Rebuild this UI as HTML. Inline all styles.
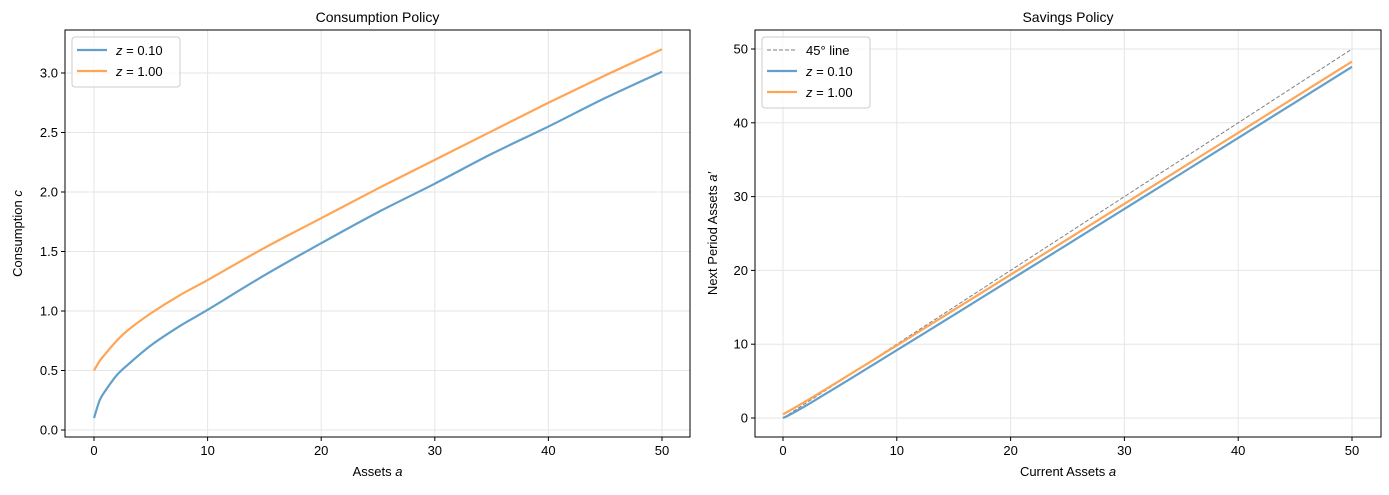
<!DOCTYPE html>
<html><head><meta charset="utf-8"><style>
body{margin:0;background:#fff;}
svg text{font-family:"Liberation Sans","DejaVu Sans",sans-serif;fill:#000;}
</style></head><body>
<svg id="fig" width="1389" height="490" xmlns="http://www.w3.org/2000/svg"></svg>
<script>
const assets=[0,0.5,1,2,3,5,7.5,10,15,20,25,30,35,40,45,50];
const consLow=[0.10,0.25,0.33,0.46,0.55,0.71,0.87,1.01,1.30,1.57,1.83,2.07,2.32,2.55,2.79,3.01];
const consHigh=[0.50,0.58,0.64,0.75,0.84,0.98,1.13,1.26,1.53,1.78,2.03,2.27,2.51,2.75,2.98,3.20];
const saveLow=[0,0.36,0.78,1.66,2.58,4.44,6.81,9.19,13.95,18.73,23.52,28.33,33.13,37.95,42.76,47.59];
const saveHigh=[0.5,0.93,1.37,2.27,3.19,5.07,7.45,9.84,14.62,19.42,24.22,29.03,33.84,38.65,43.47,48.3];
const xTicks=[0,10,20,30,40,50];
const consTicks=[0,0.5,1,1.5,2,2.5,3];
const saveTicks=[0,10,20,30,40,50];
const ns="http://www.w3.org/2000/svg";
const svg=document.getElementById('fig');
function el(tag,attrs,parent){const e=document.createElementNS(ns,tag);for(const k in attrs)e.setAttribute(k,attrs[k]);(parent||svg).appendChild(e);return e;}
const BLUE="#62a0cb",ORANGE="#ffa556";
function smooth(pts){
  let d=`M${pts[0][0]},${pts[0][1]}`;
  for(let i=0;i<pts.length-1;i++){
    const p0=pts[i-1]||pts[i],p1=pts[i],p2=pts[i+1],p3=pts[i+2]||p2;
    const c1=[p1[0]+(p2[0]-p0[0])/6,p1[1]+(p2[1]-p0[1])/6];
    const c2=[p2[0]-(p3[0]-p1[0])/6,p2[1]-(p3[1]-p1[1])/6];
    d+=` C${c1[0]},${c1[1]} ${c2[0]},${c2[1]} ${p2[0]},${p2[1]}`;
  }
  return d;
}
function panel(o){
  const g=el('g',{});
  
  
  const X=v=>o.x0+(v-0)*(o.x50-o.x0)/50;
  const Y=v=>o.yb+(v-o.yv0)*(o.yt-o.yb)/(o.yv1-o.yv0);
  xTicks.forEach(t=>{
    const l=el('line',{x1:X(t),x2:X(t),y1:o.top,y2:o.bottom,stroke:'#e6e6e6','stroke-width':1},g);
    
    el('line',{x1:X(t),x2:X(t),y1:o.bottom,y2:o.bottom+4,stroke:'#000'},g);
    const tx=el('text',{x:X(t),y:o.bottom+18,'text-anchor':'middle','font-size':13},g);tx.textContent=t;
    
  });
  o.yticks.forEach(t=>{
    const l=el('line',{x1:o.left,x2:o.right,y1:Y(t),y2:Y(t),stroke:'#e6e6e6','stroke-width':1},g);
    
    el('line',{x1:o.left-4,x2:o.left,y1:Y(t),y2:Y(t),stroke:'#000'},g);
    const tx=el('text',{x:o.left-7,y:Y(t)+4.5,'text-anchor':'end','font-size':13},g);tx.textContent=o.fmt(t);
    
  });
  if(o.diag){
    const d=el('line',{x1:X(0),y1:Y(0),x2:X(50),y2:Y(50),stroke:'#808080','stroke-width':1,'stroke-dasharray':'4,2'},g);
    
  }
  o.series.forEach(s=>{
    const p=el('path',{d:smooth(assets.map((a,i)=>[X(a),Y(s.v[i])])),fill:'none',stroke:s.c,'stroke-width':2.2,'stroke-linejoin':'round'},g);
    
  });
  const fr=el('rect',{x:o.left,y:o.top,width:o.right-o.left,height:o.bottom-o.top,fill:'none',stroke:'#000','stroke-width':1},g);
  
  const t=el('text',{x:(o.left+o.right)/2,y:22,'text-anchor':'middle','font-size':14},g);t.textContent=o.title;
  
  const xl=el('text',{x:(o.left+o.right)/2,y:476,'text-anchor':'middle','font-size':13},g);
  xl.innerHTML=o.xlabel+' <tspan font-style="italic">a</tspan>';
  
  const yl=el('text',{x:0,y:0,'text-anchor':'middle','font-size':13,transform:`translate(${o.ylx},${(o.top+o.bottom)/2}) rotate(-90)`},g);
  yl.innerHTML=o.ylabel;
  
  const lg=el('g',{},g);
  const entries=o.legend;
  el('rect',{x:o.left+7,y:37,width:o.legW,height:entries.length*21+8,rx:3,fill:'#fff','fill-opacity':0.8,stroke:'#ccc'},lg);
  entries.forEach((e,i)=>{
    const y=50+i*21;
    const li=el('line',{x1:o.left+12,x2:o.left+42,y1:y,y2:y,stroke:e.c,'stroke-width':e.dash?1:2.2,'stroke-dasharray':e.dash?'4,2':'none'},lg);
    
    const tx=el('text',{x:o.left+51,y:y+5,'font-size':13},lg);tx.innerHTML=e.t;
    
  });
}
const zl=v=>`<tspan font-style="italic">z</tspan> = ${v}`;
panel({name:'consumption-panel',left:65,right:690,top:30,bottom:437,x0:94,x50:662,yb:430,yt:73,yv0:0,yv1:3,
  yticks:consTicks,fmt:t=>t.toFixed(1),title:'Consumption Policy',xlabel:'Assets',ylx:22,
  ylabel:'Consumption <tspan font-style="italic">c</tspan>',diag:false,legW:108,
  series:[{v:consLow,c:BLUE,n:'consumption-line-z-0.10'},{v:consHigh,c:ORANGE,n:'consumption-line-z-1.00'}],
  legend:[{c:BLUE,t:zl('0.10')},{c:ORANGE,t:zl('1.00')}]});
panel({name:'savings-panel',left:755,right:1381,top:30,bottom:437,x0:783,x50:1352,yb:418,yt:49,yv0:0,yv1:50,
  yticks:saveTicks,fmt:t=>t,title:'Savings Policy',xlabel:'Current Assets',ylx:717,
  ylabel:'Next Period Assets <tspan font-style="italic">a′</tspan>',diag:true,legW:108,
  series:[{v:saveLow,c:BLUE,n:'savings-line-z-0.10'},{v:saveHigh,c:ORANGE,n:'savings-line-z-1.00'}],
  legend:[{c:'#808080',dash:true,t:'45° line'},{c:BLUE,t:zl('0.10')},{c:ORANGE,t:zl('1.00')}]});
</script>
</body></html>
